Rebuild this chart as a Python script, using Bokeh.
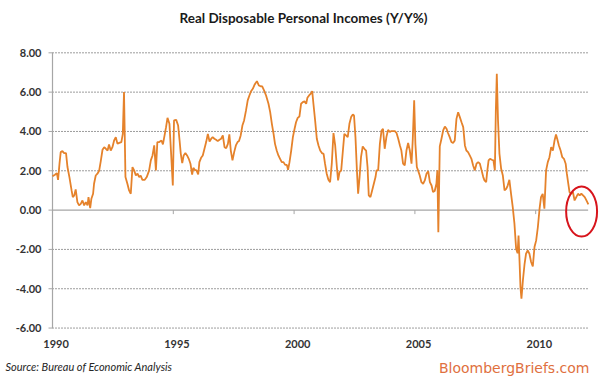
from bokeh.plotting import figure
from bokeh.models import Range1d, Label
from bokeh.core.properties import value
from bokeh.embed import file_html
from bokeh.resources import INLINE

# ---- data (decimal year, Y/Y %) ----
years = [
    1990.00, 1990.10, 1990.18, 1990.23, 1990.29, 1990.34, 1990.41, 1990.48, 1990.56, 1990.62,
    1990.70, 1990.79, 1990.84, 1990.90, 1990.96, 1991.03, 1991.10, 1991.17, 1991.24, 1991.31,
    1991.38, 1991.45, 1991.49, 1991.56, 1991.61, 1991.68, 1991.72, 1991.79, 1991.86, 1991.93,
    1992.00, 1992.07, 1992.14, 1992.21, 1992.28, 1992.34, 1992.41, 1992.48, 1992.55, 1992.62,
    1992.69, 1992.76, 1992.85, 1992.91, 1992.96, 1993.02, 1993.10, 1993.17, 1993.24, 1993.31,
    1993.38, 1993.45, 1993.52, 1993.59, 1993.65, 1993.72, 1993.82, 1993.90, 1994.00, 1994.07,
    1994.14, 1994.21, 1994.28, 1994.34, 1994.42, 1994.51, 1994.57, 1994.65, 1994.70, 1994.76,
    1994.84, 1994.91, 1994.98, 1995.03, 1995.12, 1995.20, 1995.26, 1995.31, 1995.37, 1995.43,
    1995.50, 1995.57, 1995.64, 1995.71, 1995.78, 1995.83, 1995.89, 1995.96, 1996.03, 1996.08,
    1996.15, 1996.22, 1996.29, 1996.36, 1996.43, 1996.50, 1996.57, 1996.63, 1996.70, 1996.77,
    1996.84, 1996.91, 1996.98, 1997.05, 1997.12, 1997.19, 1997.26, 1997.32, 1997.38, 1997.45,
    1997.52, 1997.59, 1997.66, 1997.72, 1997.79, 1997.86, 1997.93, 1998.01, 1998.08, 1998.15,
    1998.22, 1998.29, 1998.37, 1998.46, 1998.54, 1998.61, 1998.68, 1998.76, 1998.84, 1998.94,
    1999.01, 1999.08, 1999.15, 1999.21, 1999.28, 1999.35, 1999.42, 1999.49, 1999.56, 1999.63,
    1999.70, 1999.75, 1999.81, 1999.88, 1999.95, 2000.02, 2000.08, 2000.15, 2000.22, 2000.29,
    2000.36, 2000.43, 2000.50, 2000.55, 2000.62, 2000.69, 2000.75, 2000.80, 2000.87, 2000.94,
    2001.01, 2001.08, 2001.15, 2001.22, 2001.28, 2001.35, 2001.42, 2001.49, 2001.56, 2001.63,
    2001.70, 2001.77, 2001.82, 2001.88, 2001.95, 2002.02, 2002.08, 2002.15, 2002.22, 2002.29,
    2002.36, 2002.43, 2002.48, 2002.54, 2002.60, 2002.65, 2002.71, 2002.77, 2002.84, 2002.91,
    2002.98, 2003.04, 2003.09, 2003.16, 2003.23, 2003.30, 2003.37, 2003.41, 2003.48, 2003.55,
    2003.62, 2003.68, 2003.75, 2003.82, 2003.89, 2003.96, 2004.03, 2004.10, 2004.17, 2004.24,
    2004.31, 2004.38, 2004.44, 2004.51, 2004.58, 2004.65, 2004.72, 2004.79, 2004.86, 2004.91,
    2004.97, 2005.02, 2005.08, 2005.13, 2005.20, 2005.27, 2005.34, 2005.41, 2005.48, 2005.55,
    2005.62, 2005.69, 2005.75, 2005.82, 2005.89, 2005.93, 2005.97, 2006.03, 2006.10, 2006.17,
    2006.24, 2006.31, 2006.37, 2006.44, 2006.51, 2006.58, 2006.65, 2006.72, 2006.79, 2006.86,
    2006.93, 2007.00, 2007.07, 2007.13, 2007.20, 2007.27, 2007.34, 2007.41, 2007.48, 2007.55,
    2007.62, 2007.69, 2007.76, 2007.83, 2007.88, 2007.95, 2007.99, 2008.05, 2008.11, 2008.18,
    2008.25, 2008.31, 2008.35, 2008.39, 2008.44, 2008.50, 2008.57, 2008.64, 2008.71, 2008.78,
    2008.84, 2008.91, 2008.98, 2009.05, 2009.12, 2009.19, 2009.25, 2009.29, 2009.33, 2009.37,
    2009.41, 2009.47, 2009.54, 2009.60, 2009.67, 2009.74, 2009.81, 2009.88, 2009.95, 2010.02,
    2010.09, 2010.16, 2010.22, 2010.29, 2010.36, 2010.43, 2010.50, 2010.57, 2010.64, 2010.71,
    2010.78, 2010.84, 2010.89, 2010.96, 2011.03, 2011.10, 2011.17, 2011.24, 2011.29, 2011.35,
    2011.40, 2011.47, 2011.54, 2011.61, 2011.68, 2011.75, 2011.82, 2011.89, 2011.96, 2012.03,
    2012.10, 2012.18,
]
values = [
    1.72, 1.80, 1.88, 1.54, 2.36, 2.95, 3.00, 2.90, 2.90, 2.19,
    1.68, 1.00, 0.66, 0.75, 1.05, 0.41, 0.24, 0.32, 0.49, 0.24,
    0.41, 0.24, 0.66, 0.10, 0.58, 0.83, 1.34, 1.76, 1.85, 2.00,
    2.50, 3.07, 3.20, 3.12, 3.03, 3.34, 3.03, 3.20, 3.54, 3.71,
    3.37, 3.42, 3.46, 3.88, 6.00, 1.68, 1.34, 1.00, 0.83, 2.19,
    2.02, 1.76, 1.85, 1.68, 1.76, 1.54, 1.54, 1.68, 2.02, 2.53,
    2.78, 3.29, 2.02, 3.46, 3.46, 3.54, 3.34, 3.88, 4.22, 4.69,
    4.39, 2.86, 1.25, 4.56, 4.59, 4.30, 3.54, 2.86, 2.39, 2.78,
    2.90, 2.78, 2.61, 2.36, 1.81, 2.15, 2.05, 2.02, 1.81, 2.44,
    2.66, 2.78, 3.12, 3.46, 3.88, 3.49, 3.63, 3.71, 3.63, 3.58,
    3.51, 3.58, 3.63, 3.80, 3.20, 3.15, 3.37, 3.85, 3.03, 2.53,
    2.95, 3.29, 3.46, 3.51, 3.80, 4.30, 4.56, 5.07, 5.58, 5.83,
    6.05, 6.17, 6.39, 6.56, 6.34, 6.30, 6.29, 6.08, 5.83, 5.41,
    4.98, 4.39, 3.88, 3.37, 3.03, 2.78, 2.61, 2.44, 2.44, 2.30,
    2.30, 2.05, 2.44, 3.03, 3.71, 4.14, 4.47, 4.69, 4.76, 5.41,
    5.49, 5.53, 5.41, 5.71, 5.83, 5.92, 6.05, 5.41, 4.56, 3.63,
    3.29, 3.03, 2.90, 2.86, 2.36, 1.85, 1.54, 1.42, 2.36, 3.92,
    3.29, 2.19, 1.51, 1.93, 2.02, 3.03, 3.88, 3.80, 3.71, 4.39,
    4.73, 4.86, 4.81, 3.71, 2.02, 0.83, 1.68, 2.69, 3.24, 3.12,
    3.03, 2.19, 0.75, 0.66, 1.00, 1.34, 1.68, 2.02, 2.02, 3.37,
    4.05, 4.14, 3.12, 3.71, 4.08, 3.97, 4.02, 4.02, 4.02, 3.92,
    3.63, 3.29, 3.03, 2.36, 2.27, 3.03, 3.41, 3.03, 2.36, 3.54,
    5.58, 3.37, 2.19, 2.02, 1.76, 1.42, 1.34, 1.51, 1.85, 1.98,
    1.42, 1.25, 0.92, 0.97, 1.34, 2.02, -1.12, 3.24, 3.63, 4.05,
    4.25, 4.14, 3.92, 3.71, 3.46, 3.41, 3.54, 4.64, 4.98, 4.73,
    4.47, 4.22, 3.29, 3.03, 2.95, 2.78, 2.61, 2.27, 2.02, 2.36,
    2.44, 2.36, 2.02, 1.68, 1.51, 1.42, 1.93, 2.53, 2.61, 2.56,
    2.53, 2.02, 5.07, 6.93, 4.56, 2.86, 2.10, 1.76, 1.00, 1.08,
    1.25, 1.54, 0.83, 0.15, -0.69, -1.97, -2.19, -1.29, -2.56, -3.92,
    -4.51, -3.58, -2.73, -2.22, -2.05, -2.22, -2.64, -2.86, -1.88, -1.54,
    -0.86, 0.07, 0.66, 0.83, 0.07, 2.02, 2.44, 2.69, 3.20, 3.03,
    3.54, 3.85, 3.63, 3.29, 3.03, 2.69, 2.61, 2.36, 1.85, 1.34,
    0.92, 0.83, 0.92, 0.49, 0.66, 0.83, 0.75, 0.83, 0.75, 0.66,
    0.49, 0.29,
]

x_ticks = [1990, 1995, 2000, 2005, 2010]
x_tick_labels = ["1990", "1995", "2000", "2005", "2010"]
y_ticks = [-6, -4, -2, 0, 2, 4, 6, 8]
y_tick_labels = ["%.2f" % t for t in y_ticks]
grid_levels = [-6, -4, -2, 2, 4, 6, 8]

title_text = "Real Disposable Personal Incomes (Y/Y%)"
source_text = "Source: Bureau of Economic Analysis"
brand_text = "BloombergBriefs.com"

# highlighted recent readings (red ellipse)
circle_x, circle_y, circle_w, circle_h = 2011.9, -0.07, 1.28, 2.55

# ---- layout: the frame fills the whole canvas, scales set so the
# plotting area sits where the reference's does ----
W, H = 600, 379
PX_YEAR = 24.16      # pixels per year
PX_UNIT = 19.66      # pixels per percentage point
LEFT_PX, ZERO_PX = 52.0, 209.6
X0 = 1990 - LEFT_PX / PX_YEAR
X1 = 1990 + (W - LEFT_PX) / PX_YEAR
Y1 = ZERO_PX / PX_UNIT
Y0 = -(H - ZERO_PX) / PX_UNIT
AX_X = 1990.0
GRID_END = 2012.17
TICK_LEN_X = 4 / PX_YEAR
TICK_LEN_Y = 4 / PX_UNIT
YLAB_X = AX_X - 11 / PX_YEAR
XLAB_Y = -(343 - ZERO_PX) / PX_UNIT
LABEL_SHIFT = 0.15

p = figure(width=W, height=H, output_backend="svg", toolbar_location=None,
           x_range=Range1d(X0, X1), y_range=Range1d(Y0, Y1),
           min_border=0)
p.outline_line_color = None
p.background_fill_color = "white"
p.border_fill_color = "white"
p.grid.visible = False
p.xaxis.visible = False
p.yaxis.visible = False

# dotted horizontal gridlines
n = len(grid_levels)
p.segment(x0=[AX_X] * n, x1=[GRID_END] * n, y0=grid_levels, y1=grid_levels,
          line_color="#3a3a3a", line_width=1, line_dash="1 2")
# zero line (category axis)
p.segment(x0=[AX_X], x1=[GRID_END], y0=[0], y1=[0], line_color="#a6a6a6", line_width=1.2)
# tick marks hanging off the zero line
p.segment(x0=x_ticks[1:], x1=x_ticks[1:], y0=[0] * 4, y1=[-TICK_LEN_Y] * 4,
          line_color="#a6a6a6", line_width=1)
# value axis line and its ticks
p.segment(x0=[AX_X], x1=[AX_X], y0=[min(y_ticks)], y1=[max(y_ticks)],
          line_color="#a6a6a6", line_width=1.2)
p.segment(x0=[AX_X - TICK_LEN_X] * len(y_ticks), x1=[AX_X] * len(y_ticks),
          y0=y_ticks, y1=y_ticks, line_color="#a6a6a6", line_width=1)

# data line
p.line(years, values, line_color="#E5822B", line_width=1.8)

# red highlight ellipse
p.ellipse(x=[circle_x], y=[circle_y], width=[circle_w], height=[circle_h],
          fill_alpha=0, line_color="#D7141C", line_width=2)

# tick labels
p.text(x=[YLAB_X] * len(y_ticks), y=y_ticks, text=y_tick_labels,
       text_align="right", text_baseline="middle", text_font=value("Lato"),
       text_font_style="bold", text_font_size="11px", text_color="#333333")
p.text(x=[t + LABEL_SHIFT for t in x_ticks], y=[XLAB_Y] * len(x_ticks), text=x_tick_labels,
       text_align="center", text_baseline="middle", text_font=value("Lato"),
       text_font_style="bold", text_font_size="11px", text_color="#333333")

# title, source, brand
p.add_layout(Label(x=1990 + (303 - LEFT_PX) / PX_YEAR, y=(ZERO_PX - 17) / PX_UNIT,
                   text=title_text, text_align="center", text_baseline="middle",
                   text_font="Lato", text_font_style="bold", text_font_size="13.5px",
                   text_color="#1a1a1a"))
p.add_layout(Label(x=1990 + (5 - LEFT_PX) / PX_YEAR, y=(ZERO_PX - 366) / PX_UNIT,
                   text=source_text, text_align="left", text_baseline="middle",
                   text_font="Lato", text_font_style="italic", text_font_size="11px",
                   text_color="#262626"))
p.add_layout(Label(x=1990 + (589 - LEFT_PX) / PX_YEAR, y=(ZERO_PX - 367) / PX_UNIT,
                   text=brand_text, text_align="right", text_baseline="middle",
                   text_font="DejaVu Sans", text_font_size="14px", text_color="#E0703E"))

open("out.html", "w").write(file_html(p, INLINE))
